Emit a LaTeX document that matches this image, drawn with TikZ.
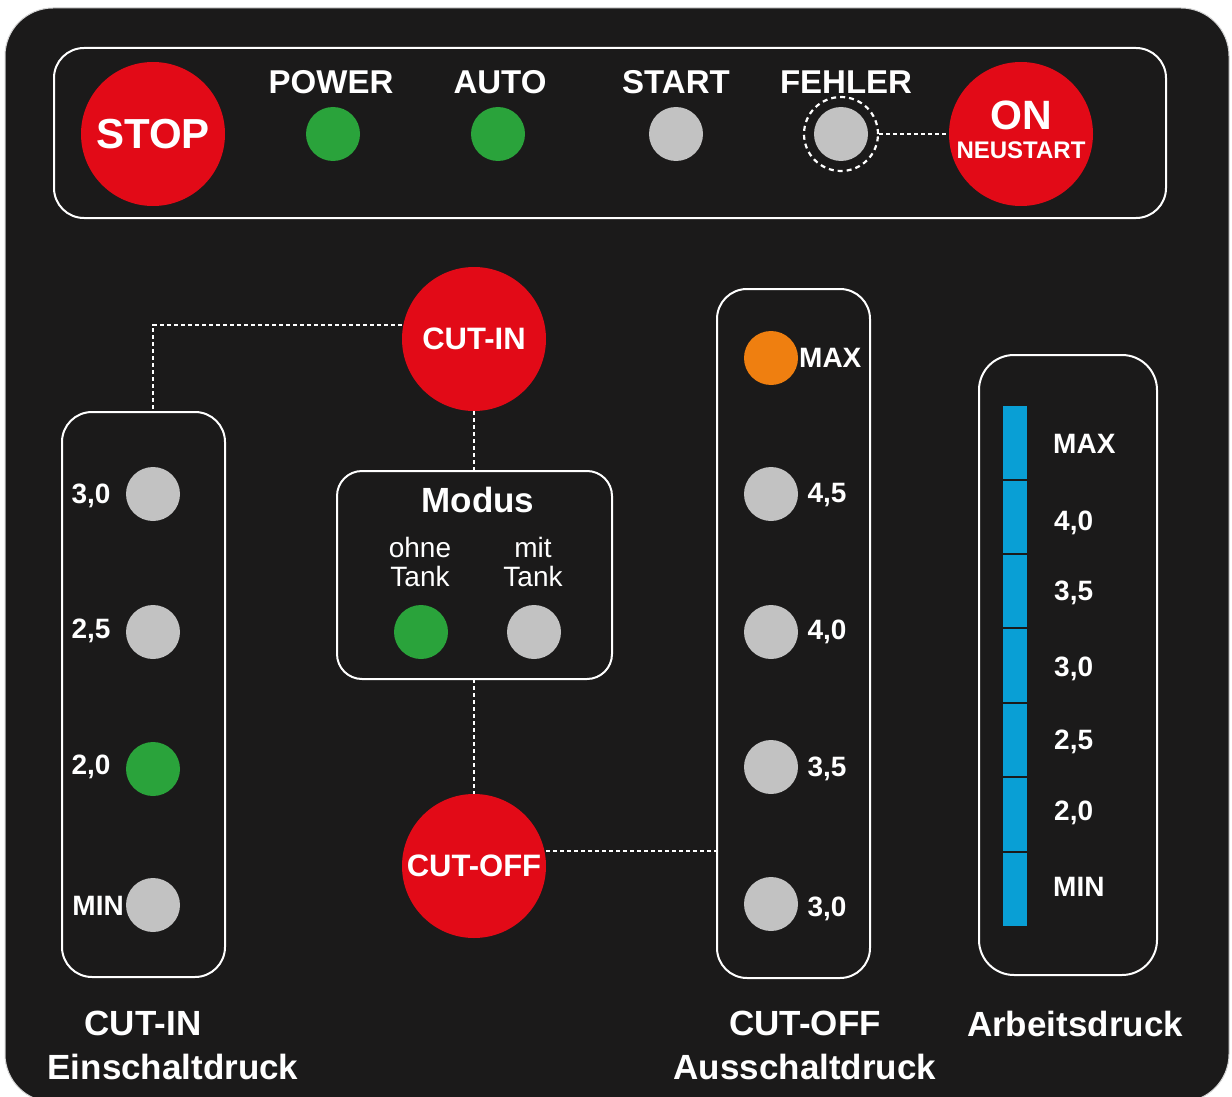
\documentclass[tikz,border=0pt]{standalone}
\usepackage{fontspec}
\setmainfont{Liberation Sans}
\definecolor{panel}{HTML}{1B1A1A}
\definecolor{ledred}{HTML}{E20A17}
\definecolor{ledgreen}{HTML}{2AA33B}
\definecolor{ledgrey}{HTML}{C2C2C2}
\definecolor{ledorange}{HTML}{EF7F10}
\definecolor{barblue}{HTML}{099FD5}
\newcommand{\fs}[1]{\fontsize{#1}{#1}\selectfont}
\tikzset{
  frame/.style={draw=white, line width=2pt, rounded corners=#1},
  led/.style={circle, fill=#1, minimum size=54pt, inner sep=0pt},
  bigbtn/.style={circle, fill=ledred, minimum size=144pt, inner sep=0pt, text=white, font=\bfseries\fs{31}, align=center},
  lbl/.style={text=white, font=\bfseries\fs{#1}, inner sep=0pt},
  lbl/.default=28,
  modtxt/.style={text=white, font=\fontsize{28}{29}\selectfont, align=center, inner sep=0pt},
  link/.style={draw=white, line width=2pt, dash pattern=on 4pt off 3pt},
}
\begin{document}
\begin{tikzpicture}[x=1pt,y=-1pt]
\useasboundingbox (0,0) rectangle (1232,1097);
\fill[white] (0,0) rectangle (1232,1097);
\begin{scope}
\clip (0,0) rectangle (1232,1097);
\draw[fill=panel, draw=ledgrey!70, line width=1pt, rounded corners=48pt] (5,8) rectangle (1229,1102);
\end{scope}

% top bar
\draw[frame=30pt] (54,48) rectangle (1166,218);
\node[bigbtn, font=\bfseries\fs{42}] (stop) at (153,134) {STOP};
\node[lbl=33] (tpower) at (331,82) {POWER};
\node[led=ledgreen] (power) at (333,134) {};
\node[lbl=33] (tauto) at (500,82) {AUTO};
\node[led=ledgreen] (auto) at (498,134) {};
\node[lbl=33] (tstart) at (676,82) {START};
\node[led=ledgrey] (start) at (676,134) {};
\node[lbl=33] (tfehler) at (846,82) {FEHLER};
\node[led=ledgrey] (fehler) at (841,134) {};
\node[circle, minimum size=74pt, inner sep=0pt, draw=white, line width=2.2pt, dash pattern=on 5pt off 4pt] (fring) at (841,134) {};
\node[bigbtn] (on) at (1021,134) {};
\node[lbl=41] (ontxt) at (1021,115) {ON};
\node[lbl=24] (neustart) at (1021,150) {NEUSTART};
\draw[link] (fring.east) -- (on.west);

% CUT-IN / Modus / CUT-OFF
\node[bigbtn] (cutin) at (474,339) {CUT-IN};
\node[bigbtn, font=\bfseries\fs{31}] (cutoff) at (474,866) {\hspace*{-8pt}CUT-OFF\hspace*{-8pt}};
\draw[frame=25pt] (337,471) rectangle (612,679);
\coordinate (modtop) at (474,471);
\coordinate (modbot) at (474,679);
\node[lbl=35] (modus) at (478,500) {Modus};
\node[modtxt] (ohne) at (420,562) {ohne\\Tank};
\node[modtxt] (mit) at (533,562) {mit\\Tank};
\node[led=ledgreen] (mohne) at (421,632) {};
\node[led=ledgrey] (mmit) at (534,632) {};
\draw[link] (cutin.south) -- (modtop);
\draw[link] (modbot) -- (cutoff.north);

% left box CUT-IN
\draw[frame=30pt] (62,412) rectangle (225,977);
\coordinate (lefttop) at (153,412);
\coordinate (cinbend) at (153,325);
\draw[link] (cutin.west |- 0,325) -- (cinbend) -- (lefttop);
\node[led=ledgrey] (ci30) at (153,494) {};
\node[led=ledgrey] (ci25) at (153,632) {};
\node[led=ledgreen] (ci20) at (153,769) {};
\node[led=ledgrey] (cimin) at (153,905) {};
\node[lbl] (lci30) at (91,496) {3,0};
\node[lbl] (lci25) at (91,631) {2,5};
\node[lbl] (lci20) at (91,767) {2,0};
\node[lbl, anchor=east] (lcimin) at (124,906) {MIN};
\node[lbl=35] (tcutin) at (143,1023) {CUT-IN};
\node[lbl=35] (tein) at (173,1067) {Einschaltdruck};

% CUT-OFF box
\draw[frame=30pt] (717,289) rectangle (870,978);
\coordinate (coleft) at (717,851);
\draw[link] (cutoff.east |- 0,851) -- (coleft);
\node[led=ledorange] (comax) at (771,358) {};
\node[led=ledgrey] (co45) at (771,494) {};
\node[led=ledgrey] (co40) at (771,632) {};
\node[led=ledgrey] (co35) at (771,767) {};
\node[led=ledgrey] (co30) at (771,904) {};
\node[lbl, anchor=west] (lcomax) at (799,358) {MAX};
\node[lbl] (lco45) at (827,495) {4,5};
\node[lbl] (lco40) at (827,632) {4,0};
\node[lbl] (lco35) at (827,769) {3,5};
\node[lbl] (lco30) at (827,909) {3,0};
\node[lbl=35] (tcutoff) at (805,1023) {CUT-OFF};
\node[lbl=35] (taus) at (805,1067) {Ausschaltdruck};

% Arbeitsdruck
\draw[frame=35pt] (979,355) rectangle (1157,975);
\fill[barblue] (1003,406) rectangle (1027,926);
\foreach \yy in {480,554,628,703,777,852} {
  \draw[panel, line width=2pt] (1002,\yy) -- (1028,\yy);
}
\node[lbl, anchor=west] (amax) at (1053,444) {MAX};
\node[lbl, anchor=west] (a40) at (1054,523) {4,0};
\node[lbl, anchor=west] (a35) at (1054,593) {3,5};
\node[lbl, anchor=west] (a30) at (1054,669) {3,0};
\node[lbl, anchor=west] (a25) at (1054,742) {2,5};
\node[lbl, anchor=west] (a20) at (1054,813) {2,0};
\node[lbl, anchor=west] (amin) at (1053,887) {MIN};
\node[lbl=35] (tarb) at (1075,1024) {Arbeitsdruck};
\end{tikzpicture}
\end{document}
